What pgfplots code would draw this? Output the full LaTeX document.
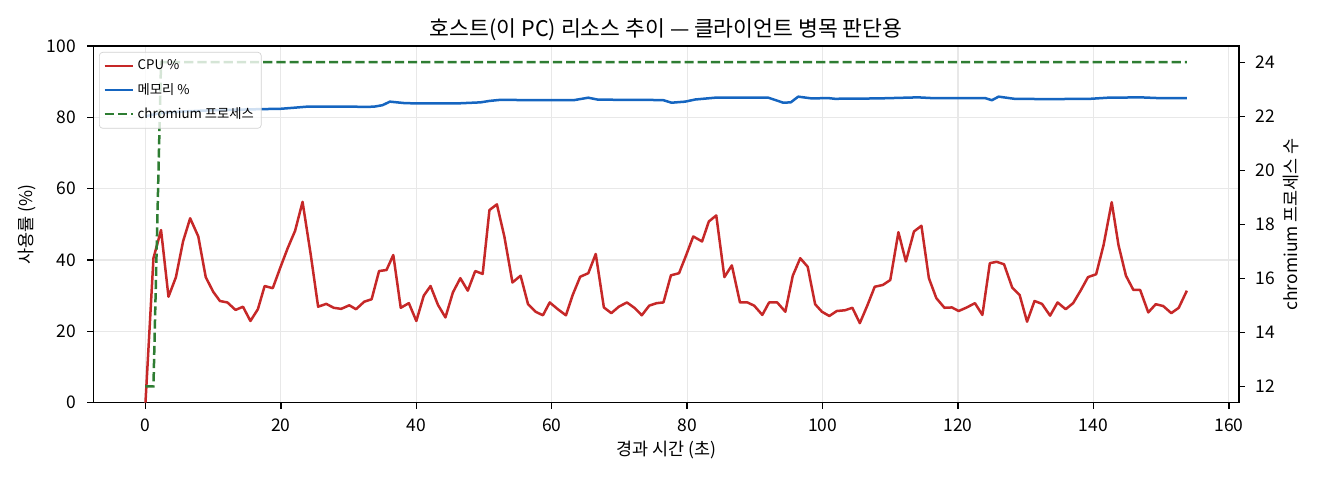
\documentclass[border=0pt]{standalone}
\usepackage{pgfplots}
\pgfplotsset{compat=1.18}
\usepackage{fontspec}
\setmainfont{Noto Sans CJK KR}
\definecolor{cpured}{RGB}{198,40,40}
\definecolor{memblue}{RGB}{21,101,192}
\definecolor{chrgreen}{RGB}{46,125,50}
\definecolor{gridgray}{RGB}{232,232,232}
\definecolor{legedge}{RGB}{210,210,210}
\begin{document}
\begin{tikzpicture}
\useasboundingbox (-56bp,-46.4bp) rectangle (736bp,241.6bp);
\pgfplotsset{
  common/.style={
    at={(0,0)}, anchor=south west,
    scale only axis, width=687.4bp, height=214bp,
    xmin=-7.7, xmax=161.5,
    tick align=outside, major tick length=3.5bp,
    tick style={black, line width=0.8bp},
    axis line style={black, line width=0.8bp},
    ticklabel style={font=\fontsize{10.5}{12}\selectfont},
    label style={font=\fontsize{10.5}{12}\selectfont},
    /pgf/number format/assume math mode=true,
  }
}
\begin{axis}[common,
  ymin=0, ymax=100,
  xtick={0,20,...,160}, ytick={0,20,...,100},
  xtick pos=bottom, ytick pos=left,
  xticklabel style={yshift=-2.6bp},
  yticklabel style={xshift=-3.5bp},
  grid=major, grid style={gridgray, line width=0.7bp},
  xlabel={경과 시간 (초)}, ylabel={사용률 (\%)},
  xlabel style={at={(axis description cs:0.5,-0.1327)}, anchor=center},
  ylabel style={at={(axis description cs:-0.0576,0.5)}, anchor=center, rotate=0},
  title={호스트(이 PC) 리소스 추이 — 클라이언트 병목 판단용},
  title style={at={(axis description cs:0.5,1)}, anchor=base, yshift=-0.5bp, inner sep=0pt, font=\fontsize{13}{15}\selectfont},
]
\addplot[cpured, line width=1.5bp, line join=round] coordinates {
(0,0) (1.18,40.5) (2.3,48.4) (3.4,29.7) (4.5,35.2) (5.55,45.2) (6.6,51.7) (7.8,46.6)
(8.9,35.2) (10.0,31.1) (11.0,28.5) (12.1,28.1) (13.3,26.0) (14.4,26.9) (15.5,22.9)
(16.6,26.2) (17.6,32.7) (18.8,32.1) (19.9,37.8) (21.0,43.3) (22.1,48.2) (23.2,56.3)
(24.4,41.6) (25.5,26.9) (26.7,27.7) (27.8,26.6) (28.9,26.3) (30.1,27.3) (31.1,26.2)
(32.3,28.3) (33.4,29.0) (34.5,36.9) (35.6,37.2) (36.6,41.4) (37.7,26.6) (38.9,27.9)
(40.0,22.9) (41.1,30.0) (42.1,32.7) (43.2,27.4) (44.3,23.9) (45.4,30.9) (46.5,34.9)
(47.6,31.4) (48.7,36.9) (49.8,36.1) (50.8,54.0) (51.9,55.6) (53.0,46.6) (54.2,33.7)
(55.4,35.6) (56.5,27.6) (57.6,25.5) (58.7,24.5) (59.7,28.1) (60.9,26.2) (62.1,24.5)
(63.1,30.2) (64.2,35.3) (65.4,36.3) (66.5,41.7) (67.7,26.7) (68.8,25.1) (69.9,26.9)
(71.1,28.1) (72.2,26.6) (73.3,24.5) (74.4,27.2) (75.5,27.9) (76.5,28.1) (77.6,35.7)
(78.8,36.3) (79.8,41.1) (80.9,46.6) (82.2,45.2) (83.2,50.8) (84.3,52.5) (85.5,35.2)
(86.6,38.5) (87.8,28.1) (88.9,28.1) (89.9,27.2) (91.1,24.6) (92.1,28.1) (93.3,28.1)
(94.5,25.5) (95.6,35.6) (96.7,40.5) (97.8,38.1) (98.9,27.6) (99.9,25.5) (101.0,24.3)
(102.1,25.7) (103.3,25.9) (104.4,26.6) (105.5,22.3) (106.6,27.2) (107.7,32.5) (108.9,33.0)
(110.0,34.4) (111.2,47.8) (112.3,39.6) (113.5,48.0) (114.6,49.6) (115.7,34.9) (116.8,29.3)
(118.0,26.6) (119.1,26.7) (120.1,25.7) (121.3,26.7) (122.5,27.9) (123.6,24.6) (124.7,39.1)
(125.7,39.5) (126.8,38.8) (128.0,32.3) (129.1,30.2) (130.2,22.7) (131.3,28.5) (132.4,27.7)
(133.6,24.4) (134.7,28.1) (135.9,26.2) (137.0,27.9) (138.1,31.4) (139.2,35.2) (140.4,36.0)
(141.5,44.2) (142.7,56.2) (143.7,44.2) (144.8,35.6) (145.9,31.6) (146.9,31.6) (148.1,25.3)
(149.2,27.6) (150.3,27.1) (151.5,25.1) (152.6,26.6) (153.8,31.4)
};
\addplot[memblue, line width=1.5bp, line join=round] coordinates {
(0,80.3) (1.2,80.8) (2.3,81.2) (5,81.6) (10,82.0) (17.1,82.3) (20.0,82.4) (22,82.7)
(23.9,83.0) (30.8,83.0) (32.3,82.9) (33.8,83.0) (35.0,83.4) (36.1,84.4) (38.2,84.0)
(40,83.9) (43.6,83.9) (46,83.9) (49.5,84.2) (50.8,84.6) (52.4,84.9) (58.3,84.8)
(63.2,84.8) (65.4,85.5) (66.7,85.0) (70,84.9) (74,84.9) (76.5,84.8) (77.7,84.1)
(79.7,84.4) (81.2,85.0) (84.1,85.5) (92.0,85.5) (94.2,84.1) (95.3,84.2) (96.4,85.8)
(98.4,85.3) (100.8,85.4) (101.8,85.2) (108.2,85.3) (114.1,85.6) (116.1,85.4) (124.0,85.4)
(125.0,84.8) (126.0,85.8) (128.3,85.2) (133.2,85.1) (139.6,85.2) (142.1,85.5) (147.0,85.6)
(149.5,85.4) (153.8,85.4)
};
\end{axis}
\begin{axis}[common,
  ymin=11.4, ymax=24.6,
  ytick={12,14,...,24},
  hide x axis, axis y line*=right, ytick pos=right,
  yticklabel style={xshift=3bp},
  ylabel={chromium 프로세스 수},
  ylabel style={at={(axis description cs:1.0451,0.5)}, anchor=center, rotate=0},
  legend style={at={(axis description cs:0,1)}, anchor=north west,
    xshift=3.4bp, yshift=-3.6bp, font=\fontsize{8}{10}\selectfont,
    draw=legedge, rounded corners=2bp, fill=white, fill opacity=0.8, text opacity=1,
    row sep=2.5bp, inner sep=2.5bp},
  legend cell align=left,
]
\addlegendimage{cpured, line width=1.5bp}
\addlegendentry{CPU \%}
\addlegendimage{memblue, line width=1.5bp}
\addlegendentry{메모리 \%}
\addplot[chrgreen, line width=1.5bp, dash pattern=on 5.5bp off 2.4bp] coordinates {
(0,12) (1.18,12) (2.3,24) (153.8,24)
};
\addlegendentry{chromium 프로세스}
\end{axis}
\end{tikzpicture}
\end{document}
